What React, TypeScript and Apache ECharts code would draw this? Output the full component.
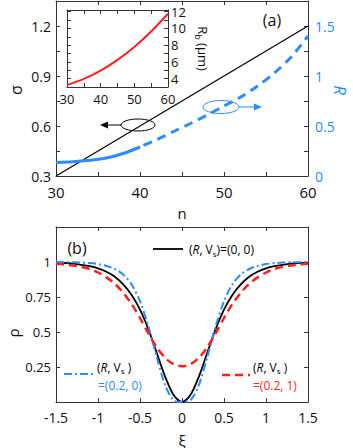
import React, { useEffect, useRef } from "react";
import * as echarts from "echarts";

// ---------- Panel (a) data ----------
const nSigma = [30, 60];
const sigmaVals = [0.3, 1.2];
const nR = [30, 32, 34, 36, 38, 40, 42, 44, 46, 48, 50, 52, 54, 56, 58, 60];
const rVals = [0.135, 0.142, 0.157, 0.18, 0.225, 0.29, 0.365, 0.445, 0.525, 0.61, 0.7, 0.79, 0.9, 1.03, 1.19, 1.4];
const rSolidUntil = 40;
// inset
const nRb = [30, 35, 40, 45, 50, 55, 60];
const rbVals = [3.25, 3.97, 4.96, 6.24, 7.79, 9.63, 11.75];

// ---------- Panel (b) data ----------
const xi = [-1.5, -1.4, -1.3, -1.2, -1.1, -1.0, -0.9, -0.8, -0.7, -0.6, -0.5, -0.4, -0.3, -0.2, -0.1, 0,
  0.1, 0.2, 0.3, 0.4, 0.5, 0.6, 0.7, 0.8, 0.9, 1.0, 1.1, 1.2, 1.3, 1.4, 1.5];
const rhoBlack = [0.996, 0.993, 0.988, 0.98, 0.97, 0.955, 0.93, 0.895, 0.84, 0.765, 0.66, 0.52, 0.35, 0.18, 0.05, 0,
  0.05, 0.18, 0.35, 0.52, 0.66, 0.765, 0.84, 0.895, 0.93, 0.955, 0.97, 0.98, 0.988, 0.993, 0.996];
const rhoBlue = [1.0, 0.999, 0.998, 0.996, 0.992, 0.985, 0.972, 0.95, 0.91, 0.84, 0.72, 0.54, 0.32, 0.12, 0.012, 0,
  0.012, 0.12, 0.32, 0.54, 0.72, 0.84, 0.91, 0.95, 0.972, 0.985, 0.992, 0.996, 0.998, 0.999, 1.0];
const rhoRed = [0.987, 0.982, 0.975, 0.965, 0.95, 0.925, 0.89, 0.845, 0.78, 0.7, 0.6, 0.49, 0.39, 0.315, 0.27, 0.255,
  0.27, 0.315, 0.39, 0.49, 0.6, 0.7, 0.78, 0.845, 0.89, 0.925, 0.95, 0.965, 0.975, 0.982, 0.987];

// ---------- tick labels ----------
const nLabels = ["30", "40", "50", "60"];
const sigmaLabels = ["0.3", "0.6", "0.9", "1.2"];
const rLabels = ["0", "0.5", "1", "1.5"];
const rbLabels = ["4", "6", "8", "10", "12"];
const xiLabels = ["-1.5", "-1", "-0.5", "0", "0.5", "1", "1.5"];
const rhoLabels = ["0.25", "0.5", "0.75", "1"];

const FONT = "'Open Sans', 'DejaVu Sans', sans-serif";
const BLUE = "#2a8cff";
const RED = "#ff1f1f";
const FRAME = "#333";

const fmt = (list: string[]) => (v: number) => {
  const s = String(+Number(v).toFixed(3));
  return list.includes(s) ? s : "";
};

const axisBase = (extra: any) => ({
  type: "value",
  nameMoveOverlap: false,
  axisLine: { show: true, onZero: false, lineStyle: { color: FRAME, width: 1 } },
  axisTick: { show: true, inside: true, length: 4, lineStyle: { color: FRAME, width: 1 } },
  splitLine: { show: false },
  ...extra,
});

const legendRich = (color: string, size: number, sub: number) => ({
  n: { fontSize: size, fontFamily: FONT, color },
  i: { fontSize: size, fontFamily: FONT, color, fontStyle: "italic" },
  s: { fontSize: size - 4, fontFamily: FONT, color, padding: [sub, 0, 0, 0] },
});

const rotText = (text: string, x: number, y: number, rot: number, size: number, fill: string, italic = false) => ({
  type: "text", x, y, rotation: rot,
  style: { text, fontSize: size, fontFamily: FONT, fill, fontStyle: italic ? "italic" : "normal", align: "center", verticalAlign: "middle" },
});

export default function App() {
  const ref = useRef<HTMLDivElement>(null);
  useEffect(() => {
    const chart = echarts.init(ref.current as HTMLDivElement, null, { renderer: "svg" });
    const option: any = {
      animation: false,
      backgroundColor: "#fff",
      textStyle: { fontFamily: FONT },
      grid: [
        { left: 56, top: 1, width: 252, height: 175, outerBoundsMode: "none" },
        { left: 67, top: 10, width: 101, height: 77, show: true, backgroundColor: "#fff", borderWidth: 0, z: 5, outerBoundsMode: "none" },
        { left: 56, top: 227, width: 252, height: 175, outerBoundsMode: "none" },
      ],
      xAxis: [
        axisBase({
          gridIndex: 0, position: "bottom", min: 30, max: 60, interval: 5,
          axisLabel: { formatter: fmt(nLabels), fontSize: 15, color: "#111", margin: 8, hideOverlap: false },
          name: "n", nameLocation: "middle", nameGap: 29, nameTextStyle: { fontSize: 15, color: "#111" },
        }),
        axisBase({ gridIndex: 0, position: "top", min: 30, max: 60, interval: 5, axisLabel: { show: false } }),
        axisBase({
          gridIndex: 1, position: "bottom", min: 30, max: 60, interval: 5, z: 6,
          axisLabel: { formatter: fmt(nLabels), fontSize: 13, color: "#111", margin: 5 },
        }),
        axisBase({ gridIndex: 1, position: "top", min: 30, max: 60, interval: 5, z: 6, axisLabel: { show: false } }),
        axisBase({
          gridIndex: 2, position: "bottom", min: -1.5, max: 1.5, interval: 0.5,
          axisLabel: { formatter: fmt(xiLabels), fontSize: 14, color: "#111", margin: 8, hideOverlap: false },
          name: "ξ", nameLocation: "middle", nameGap: 30, nameTextStyle: { fontSize: 15, color: "#111" },
        }),
        axisBase({ gridIndex: 2, position: "top", min: -1.5, max: 1.5, interval: 0.5, axisLabel: { show: false } }),
      ],
      yAxis: [
        axisBase({
          gridIndex: 0, position: "left", min: 0.3, max: 1.35, interval: 0.15,
          axisLabel: { formatter: fmt(sigmaLabels), fontSize: 14, color: "#111", margin: 5, hideOverlap: false },
        }),
        axisBase({
          gridIndex: 0, position: "right", min: 0, max: 1.75, interval: 0.25,
          axisLabel: { formatter: fmt(rLabels), fontSize: 14, color: BLUE, margin: 7, hideOverlap: false },
        }),
        axisBase({ gridIndex: 1, position: "left", min: 3, max: 12.2, interval: 1, z: 6, axisLabel: { show: false } }),
        axisBase({
          gridIndex: 1, position: "right", min: 3, max: 12.2, interval: 1, z: 6,
          axisLabel: { formatter: fmt(rbLabels), fontSize: 13, color: "#111", margin: 3, hideOverlap: false },
          name: "{n|R}{s|b}{n| (μm)}", nameLocation: "middle", nameGap: 26, nameRotate: -90,
          nameTextStyle: { rich: legendRich("#111", 13, 8) },
        }),
        axisBase({
          gridIndex: 2, position: "left", min: 0, max: 1.25, interval: 0.25,
          axisLabel: { formatter: fmt(rhoLabels), fontSize: 13, color: "#111", margin: 5, hideOverlap: false },
        }),
        axisBase({ gridIndex: 2, position: "right", min: 0, max: 1.25, interval: 0.25, axisLabel: { show: false } }),
      ],
      series: [
        {
          type: "line", xAxisIndex: 0, yAxisIndex: 0, symbol: "none",
          data: nSigma.map((n, i) => [n, sigmaVals[i]]),
          lineStyle: { color: "#000", width: 1.2 },
        },
        {
          type: "line", xAxisIndex: 0, yAxisIndex: 1, symbol: "none", smooth: 0.3,
          data: nR.map((n, i) => [n, rVals[i]]).filter((d) => d[0] <= rSolidUntil),
          lineStyle: { color: BLUE, width: 3 },
        },
        {
          type: "line", xAxisIndex: 0, yAxisIndex: 1, symbol: "none", smooth: 0.3,
          data: nR.map((n, i) => [n, rVals[i]]).filter((d) => d[0] >= rSolidUntil),
          lineStyle: { color: BLUE, width: 3, type: [9, 6], dashOffset: -4 },
        },
        {
          type: "line", xAxisIndex: 2, yAxisIndex: 2, symbol: "none", smooth: 0.3, z: 7,
          data: nRb.map((n, i) => [n, rbVals[i]]),
          lineStyle: { color: RED, width: 2 },
        },
        {
          type: "line", xAxisIndex: 4, yAxisIndex: 4, symbol: "none", smooth: 0.3,
          data: xi.map((x, i) => [x, rhoBlack[i]]),
          lineStyle: { color: "#000", width: 1.8 },
        },
        {
          type: "line", xAxisIndex: 4, yAxisIndex: 4, symbol: "none", smooth: 0.3,
          data: xi.map((x, i) => [x, rhoBlue[i]]),
          lineStyle: { color: BLUE, width: 2, type: [8, 3, 2, 3] },
        },
        {
          type: "line", xAxisIndex: 4, yAxisIndex: 4, symbol: "none", smooth: 0.3,
          data: xi.map((x, i) => [x, rhoRed[i]]),
          lineStyle: { color: RED, width: 2.5, type: [8, 5] },
        },
      ],
      graphic: [
        rotText("σ", 16, 90, Math.PI / 2, 16, "#111"),
        rotText("R", 340, 90, -Math.PI / 2, 17, BLUE, true),
        rotText("ρ", 13, 333, Math.PI / 2, 15, "#111"),
        { type: "text", x: 272, y: 20, style: { text: "(a)", fontSize: 16, fontFamily: FONT, fill: "#111", align: "center", verticalAlign: "middle" } },
        { type: "text", x: 77, y: 248, style: { text: "(b)", fontSize: 16, fontFamily: FONT, fill: "#111", align: "center", verticalAlign: "middle" } },
        // annotation ellipses and arrows, panel (a)
        { type: "ellipse", shape: { cx: 138, cy: 125, rx: 17, ry: 6 }, style: { fill: "none", stroke: "#000", lineWidth: 1 } },
        { type: "line", shape: { x1: 121, y1: 125, x2: 105, y2: 125 }, style: { stroke: "#000", lineWidth: 1 } },
        { type: "polygon", shape: { points: [[100, 125], [108, 121.5], [108, 128.5]] }, style: { fill: "#000" } },
        { type: "ellipse", shape: { cx: 221, cy: 107, rx: 18, ry: 6.5 }, style: { fill: "none", stroke: BLUE, lineWidth: 1 } },
        { type: "line", shape: { x1: 239, y1: 107, x2: 256, y2: 107 }, style: { stroke: BLUE, lineWidth: 1 } },
        { type: "polygon", shape: { points: [[262, 107], [254, 103.5], [254, 110.5]] }, style: { fill: BLUE } },
        // legend panel (b)
        { type: "line", shape: { x1: 153, y1: 249, x2: 183, y2: 249 }, style: { stroke: "#000", lineWidth: 1.8 } },
        {
          type: "text", x: 189, y: 249,
          style: { text: "{n|(}{i|R}{n|, V}{s|s}{n|)=(0, 0)}", rich: legendRich("#111", 12, 8), verticalAlign: "middle", align: "left" },
        },
        { type: "line", shape: { x1: 64, y1: 374, x2: 93, y2: 374 }, style: { stroke: BLUE, lineWidth: 2, lineDash: [8, 3, 2, 3] } },
        {
          type: "text", x: 97, y: 367,
          style: { text: "{n|(}{i|R}{n|, V}{s|s}{n| )}", rich: legendRich(BLUE, 12, 6), verticalAlign: "middle", align: "left" },
        },
        { type: "text", x: 98, y: 385, style: { text: "=(0.2, 0)", fontSize: 12, fontFamily: FONT, fill: BLUE, verticalAlign: "middle", align: "left" } },
        { type: "line", shape: { x1: 222, y1: 375, x2: 250, y2: 375 }, style: { stroke: RED, lineWidth: 2.5, lineDash: [8, 5] } },
        {
          type: "text", x: 253, y: 367,
          style: { text: "{n|(}{i|R}{n|, V}{s|s}{n| )}", rich: legendRich(RED, 12, 6), verticalAlign: "middle", align: "left" },
        },
        { type: "text", x: 253, y: 385, style: { text: "=(0.2, 1)", fontSize: 12, fontFamily: FONT, fill: RED, verticalAlign: "middle", align: "left" } },
      ],
    };
    chart.setOption(option);
    return () => chart.dispose();
  }, []);
  return (
    <div
      ref={ref}
      style={{ position: "fixed", left: 0, top: 0, width: 353, height: 448, background: "#fff" }}
    />
  );
}
